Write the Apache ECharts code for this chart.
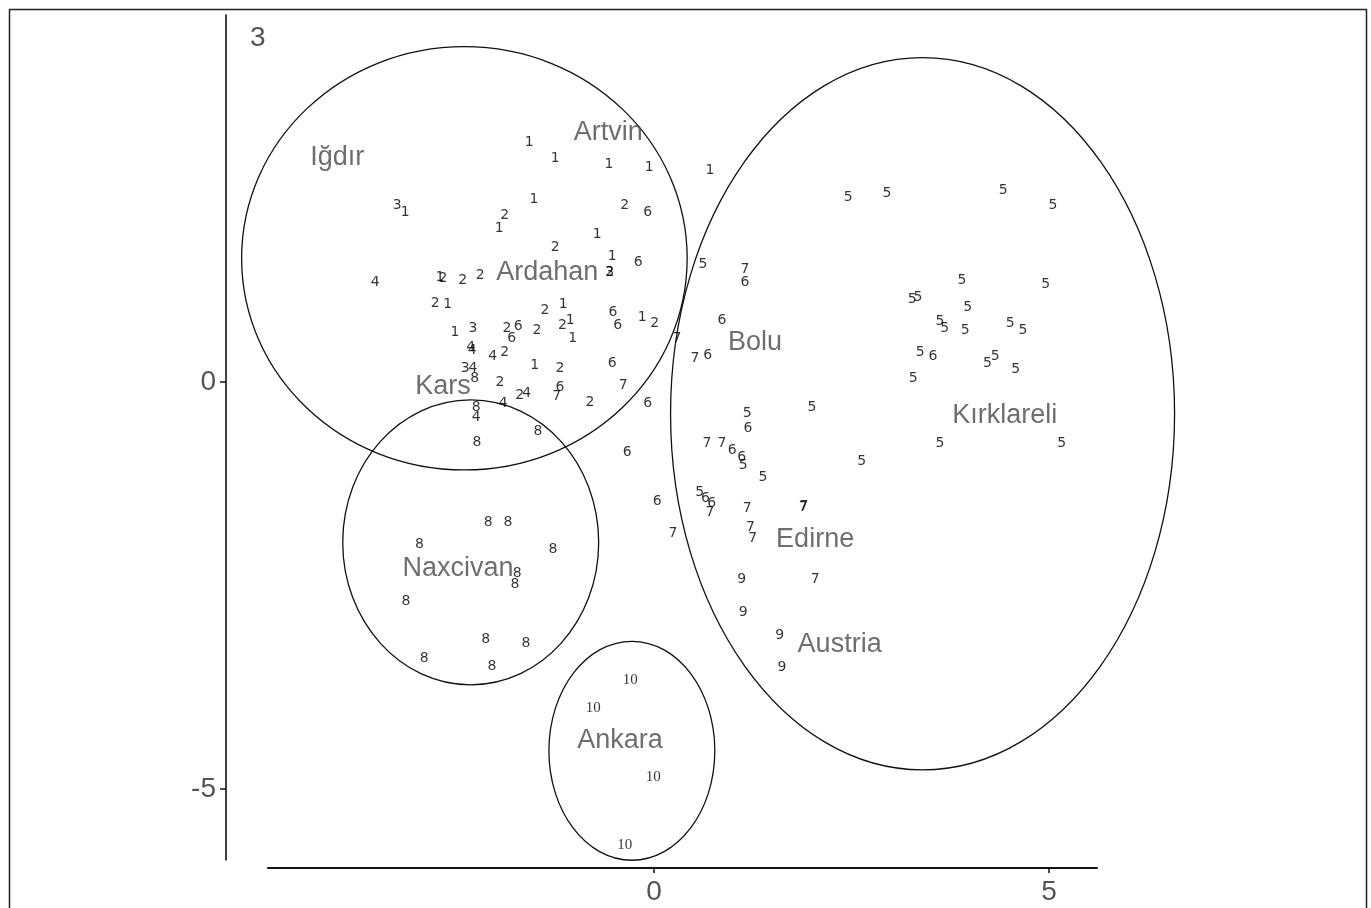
<!DOCTYPE html>
<html><head><meta charset="utf-8">
<script src="https://cdn.jsdelivr.net/npm/echarts@6/dist/echarts.min.js"></script>
<style>html,body{margin:0;padding:0;background:#fff}#c{width:1371px;height:908px}</style>
</head><body><div id="c"></div>
<script>
// ---- data (dimension 1 on x, dimension 3 on y) ----
const pts1 = [[-1.58,2.94],[-1.25,2.75],[-0.57,2.67],[-0.06,2.64],[0.71,2.60],[-3.15,2.09],[-1.52,2.25],[-1.96,1.89],[-0.72,1.81],[-0.53,1.54],[-2.71,1.28],[-2.61,0.95],[-2.52,0.61],[-1.15,0.95],[-1.06,0.76],[-1.03,0.54],[-0.15,0.80],[-1.51,0.21]];
const pts2 = [[-1.89,2.05],[-0.37,2.17],[-1.25,1.66],[-0.56,1.35],[-2.67,1.27],[-2.42,1.25],[-2.20,1.31],[-2.77,0.97],[-1.86,0.66],[-1.48,0.64],[-1.38,0.88],[-1.16,0.70],[0.01,0.72],[-1.89,0.37],[-1.19,0.17],[-1.95,0.00],[-1.70,-0.16],[-0.81,-0.25]];
const pts3 = [[-3.25,2.17],[-0.56,1.35],[-2.29,0.66],[-2.39,0.17]];
const pts4 = [[-3.53,1.22],[-2.30,0.39],[-2.32,0.43],[-2.04,0.31],[-2.29,0.17],[-1.61,-0.14],[-1.91,-0.26],[-2.25,-0.44]];
const pts5 = [[0.62,1.44],[2.46,2.27],[2.95,2.32],[4.42,2.36],[5.05,2.17],[3.90,1.25],[4.96,1.20],[3.27,1.01],[3.34,1.04],[3.97,0.92],[3.62,0.74],[3.68,0.66],[3.94,0.64],[4.51,0.72],[4.67,0.64],[3.37,0.36],[4.22,0.23],[4.32,0.31],[4.58,0.15],[3.28,0.05],[3.62,-0.75],[5.16,-0.75],[1.18,-0.38],[2.00,-0.31],[2.63,-0.98],[1.13,-1.02],[1.38,-1.17],[0.58,-1.35]];
const pts6 = [[-0.08,2.09],[-0.20,1.47],[-0.52,0.85],[-0.46,0.70],[-1.80,0.54],[-1.72,0.68],[-0.53,0.23],[-1.19,-0.06],[-0.08,-0.26],[-0.34,-0.87],[0.04,-1.47],[1.15,1.23],[0.86,0.76],[0.68,0.33],[3.53,0.31],[1.19,-0.57],[0.99,-0.84],[1.11,-0.93],[0.65,-1.43],[0.73,-1.49]];
const pts7 = [[1.15,1.38],[0.29,0.54],[0.52,0.29],[-0.39,-0.04],[-1.23,-0.18],[0.67,-0.75],[0.86,-0.75],[0.71,-1.60],[1.18,-1.55],[1.89,-1.54],[1.90,-1.53],[1.22,-1.78],[1.25,-1.92],[0.24,-1.86],[2.04,-2.43]];
const pts8 = [[-2.27,0.05],[-2.25,-0.31],[-2.24,-0.74],[-1.47,-0.61],[-2.10,-1.72],[-1.85,-1.73],[-2.97,-2.00],[-1.28,-2.06],[-1.73,-2.35],[-1.76,-2.49],[-3.14,-2.69],[-2.13,-3.16],[-1.62,-3.21],[-2.91,-3.39],[-2.05,-3.49]];
const pts9 = [[1.11,-2.43],[1.13,-2.83],[1.59,-3.11],[1.62,-3.51]];
const pts10 = [[-0.30,-3.66],[-0.77,-4.00],[-0.01,-4.85],[-0.37,-5.69]];
const groupNames = ['1','2','3','4','5','6','7','8','9','10'];

const regionNames = ['Iğdır','Artvin','Ardahan','Kars','Naxcivan','Bolu','Kırklareli','Edirne','Austria','Ankara'];
const regionX = [-4.01,-0.58,-1.35,-2.67,-2.48,1.28,4.44,2.04,2.35,-0.43];
const regionY = [2.76,3.07,1.35,-0.06,-2.29,0.49,-0.41,-1.94,-3.23,-4.40];

// ellipses: centre x, centre y, radius x, radius y (data units)
const ellipseCX = [-2.40,-2.32,-0.28,3.40];
const ellipseCY = [1.52,-1.97,-4.53,-0.39];
const ellipseRX = [2.82,1.62,1.05,3.19];
const ellipseRY = [2.60,1.75,1.345,4.375];

const xTicks = [0,5];
const yTicks = [0,-5];
const yAxisName = '3';

// ---- chart ----
const chart = echarts.init(document.getElementById('c'), null, {renderer:'canvas'});
const groups = [pts1,pts2,pts3,pts4,pts5,pts6,pts7,pts8,pts9,pts10];
const series = [];
series.push({
  type:'custom', silent:true, clip:false, z:1,
  dimensions:['cx','cy','rx','ry'],
  encode:{x:'cx', y:'cy'},
  data: ellipseCX.map((c,i)=>[c, ellipseCY[i], ellipseRX[i], ellipseRY[i]]),
  renderItem:function(params, api){
    const c = api.coord([api.value(0), api.value(1)]);
    const s = api.size([api.value(2)*2, api.value(3)*2]);
    return {type:'ellipse', shape:{cx:c[0], cy:c[1], rx:s[0]/2, ry:s[1]/2},
            style:{fill:null, stroke:'#111', lineWidth:1.3}};
  }
});
groups.forEach((pts,i)=>{
  const isTen = groupNames[i]==='10';
  series.push({
    type:'scatter', silent:true, z:3, symbolSize:0, data:pts,
    label:{show:true, position:'inside', formatter:groupNames[i], color:'#000',
      fontFamily: isTen ? 'Liberation Serif' : 'DejaVu Sans',
      fontSize: isTen ? 15 : 14}
  });
});
series.push({
  type:'scatter', silent:true, z:4, symbolSize:0,
  data: regionX.map((x,i)=>[x, regionY[i], regionNames[i]]),
  label:{show:true, position:'inside', formatter:p=>p.value[2], color:'#4a4a4a',
    fontFamily:'Liberation Sans', fontSize:27}
});

chart.setOption({
  animation:false,
  backgroundColor:'#fff',
  grid:{left:268, right:274, top:15, bottom:48, containLabel:false},
  xAxis:{
    type:'value', min:-4.886, max:5.608, offset:8,
    axisLine:{show:true, onZero:false, lineStyle:{color:'#111', width:2}},
    axisTick:{show:true, length:5, customValues:xTicks, lineStyle:{color:'#111', width:1.5}},
    axisLabel:{show:true, customValues:xTicks, margin:10, color:'#555', fontSize:28, fontFamily:'Liberation Sans'},
    splitLine:{show:false}
  },
  yAxis:{
    type:'value', min:-5.872, max:4.509, offset:42,
    name:yAxisName, nameLocation:'end', nameGap:-23,
    nameTextStyle:{color:'#555', fontSize:28, fontFamily:'Liberation Sans', align:'left', verticalAlign:'middle', padding:[0,0,0,24]},
    axisLine:{show:true, onZero:false, lineStyle:{color:'#111', width:1.6}},
    axisTick:{show:true, length:6, customValues:yTicks, lineStyle:{color:'#111', width:1.5}},
    axisLabel:{show:true, customValues:yTicks, margin:10, color:'#555', fontSize:28, fontFamily:'Liberation Sans'},
    splitLine:{show:false}
  },
  graphic:[{type:'rect', left:7, top:7, silent:true, z:0,
    shape:{width:1357, height:915}, style:{fill:null, stroke:'#222', lineWidth:1.5}}],
  series:series
});
</script></body></html>
